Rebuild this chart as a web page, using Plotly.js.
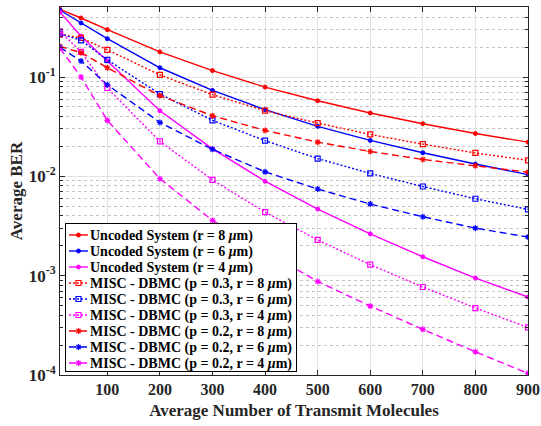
<!DOCTYPE html>
<html>
<head>
<meta charset="utf-8">
<script src="https://cdn.plot.ly/plotly-3.0.1.min.js"></script>
<style>
  html, body { margin: 0; padding: 0; background: #fff; }
  #chart { width: 541px; height: 426px; }
</style>
</head>
<body>
<div id="chart"></div>
<script>
// Average number of transmitted molecules
const molecules = [10, 50, 100, 200, 300, 400, 500, 600, 700, 800, 900];
const xTicks = [100, 200, 300, 400, 500, 600, 700, 800, 900];

// BER decades and their labels
const yTicks = [1e-4, 1e-3, 1e-2, 1e-1];
const yTickLabels = ['10<sup>-4</sup>', '10<sup>-3</sup>', '10<sup>-2</sup>', '10<sup>-1</sup>'];

// Average BER, uncoded system
const uncodedR8 = [0.48, 0.393, 0.300, 0.179, 0.116, 0.0792, 0.0577, 0.0434, 0.0339, 0.0270, 0.0221];
const uncodedR6 = [0.47, 0.350, 0.243, 0.124, 0.0733, 0.0469, 0.0319, 0.0230, 0.0173, 0.0133, 0.0104];
const uncodedR4 = [0.45, 0.258, 0.145, 0.0458, 0.0189, 0.00893, 0.00469, 0.00264, 0.00155, 0.000946, 0.000609];

// Average BER, MISC - DBMC with p = 0.3
const miscP3R8 = [0.267, 0.248, 0.188, 0.105, 0.0664, 0.0458, 0.0344, 0.0264, 0.0211, 0.0172, 0.0145];
const miscP3R6 = [0.273, 0.234, 0.149, 0.0674, 0.0366, 0.0229, 0.0151, 0.0107, 0.0079, 0.00595, 0.00465];
const miscP3R4 = [0.288, 0.179, 0.0775, 0.0225, 0.0092, 0.00436, 0.00229, 0.00129, 0.000769, 0.000472, 0.000301];

// Average BER, MISC - DBMC with p = 0.2
const miscP2R8 = [0.203, 0.176, 0.124, 0.0649, 0.0407, 0.0290, 0.0221, 0.0178, 0.0148, 0.0128, 0.0110];
const miscP2R6 = [0.199, 0.145, 0.0836, 0.0349, 0.0187, 0.0111, 0.00745, 0.00526, 0.00392, 0.00301, 0.00245];
const miscP2R4 = [0.195, 0.100, 0.0366, 0.00946, 0.0036, 0.00175, 0.000875, 0.000494, 0.000288, 0.000171, 0.000104];

const seriesNames = [
  'Uncoded System (r = 8 <i>μ</i>m)',
  'Uncoded System (r = 6 <i>μ</i>m)',
  'Uncoded System (r = 4 <i>μ</i>m)',
  'MISC - DBMC (p = 0.3, r = 8 <i>μ</i>m)',
  'MISC - DBMC (p = 0.3, r = 6 <i>μ</i>m)',
  'MISC - DBMC (p = 0.3, r = 4 <i>μ</i>m)',
  'MISC - DBMC (p = 0.2, r = 8 <i>μ</i>m)',
  'MISC - DBMC (p = 0.2, r = 6 <i>μ</i>m)',
  'MISC - DBMC (p = 0.2, r = 4 <i>μ</i>m)'
];
const seriesValues = [uncodedR8, uncodedR6, uncodedR4, miscP3R8, miscP3R6, miscP3R4, miscP2R8, miscP2R6, miscP2R4];

const RED = '#ff0000', BLUE = '#0000ff', MAGENTA = '#ff00ff';
const colors = [RED, BLUE, MAGENTA, RED, BLUE, MAGENTA, RED, BLUE, MAGENTA];

// line / marker style per scheme
const styles = [
  {dash: 'solid', symbol: 'circle', size: 4, lw: 1},
  {dash: '2px,2px', symbol: 'square-open', size: 5, lw: 1.2},
  {dash: '7px,4px', symbol: 'asterisk-open', size: 5, lw: 1.2}
];

const traces = seriesValues.map(function (vals, i) {
  const st = styles[Math.floor(i / 3)];
  return {
    x: molecules,
    y: vals,
    name: seriesNames[i],
    type: 'scatter',
    mode: 'lines+markers',
    line: {color: colors[i], width: 1.4, dash: st.dash},
    marker: {color: colors[i], symbol: st.symbol, size: st.size, line: {color: colors[i], width: st.lw}}
  };
});

// minor ticks at 2..9 within each decade
const minorTicks = [];
for (let d = -4; d <= -1; d++) {
  for (let k = 2; k <= 9; k++) minorTicks.push(k * Math.pow(10, d));
}

const AXIS_COLOR = '#262626';
const FONT = '"Liberation Serif", "Times New Roman", serif';

const layout = {
  width: 541,
  height: 426,
  margin: {l: 60, r: 13, t: 7, b: 51},
  paper_bgcolor: '#ffffff',
  plot_bgcolor: '#ffffff',
  font: {family: FONT, size: 16, color: AXIS_COLOR, weight: 700},
  showlegend: true,
  legend: {
    x: 0.0107, y: 0.011, xanchor: 'left', yanchor: 'bottom',
    bgcolor: '#ffffff', bordercolor: '#000000', borderwidth: 1,
    font: {family: FONT, size: 14, color: '#000000', weight: 700}
  },
  xaxis: {
    range: [10, 900],
    tickvals: xTicks,
    ticks: 'inside', ticklen: 5, tickwidth: 1, tickcolor: AXIS_COLOR,
    showline: true, linecolor: AXIS_COLOR, linewidth: 1, mirror: 'allticks',
    showgrid: true, gridcolor: '#e2e2e2', gridwidth: 1,
    zeroline: false,
    tickfont: {family: FONT, size: 16, color: AXIS_COLOR, weight: 700},
    title: {text: 'Average Number of Transmit Molecules', font: {family: FONT, size: 17, color: AXIS_COLOR, weight: 700}, standoff: 6}
  },
  yaxis: {
    type: 'log',
    range: [-4, -0.295],
    tickmode: 'array',
    tickvals: yTicks,
    ticktext: yTickLabels,
    ticks: 'inside', ticklen: 5, tickwidth: 1, tickcolor: AXIS_COLOR,
    showline: true, linecolor: AXIS_COLOR, linewidth: 1, mirror: 'allticks',
    showgrid: true, gridcolor: '#e2e2e2', gridwidth: 1,
    zeroline: false,
    minor: {
      tickvals: minorTicks,
      ticks: 'inside', ticklen: 3, tickcolor: AXIS_COLOR,
      showgrid: true, gridcolor: '#c4c4c4', griddash: 'dot', gridwidth: 1
    },
    tickfont: {family: FONT, size: 17, color: AXIS_COLOR, weight: 700},
    title: {text: 'Average BER', font: {family: FONT, size: 17, color: AXIS_COLOR, weight: 700}, standoff: 1}
  }
};

// Compact the legend rows into a tight boxed list in the lower-left corner
function tightenLegend(gd) {
  const legend = gd.querySelector('g.legend');
  if (!legend) return;
  const rowH = 16, firstY = 12, textX = 24;
  let maxW = 0;
  legend.querySelectorAll('g.traces').forEach(function (g, i) {
    g.setAttribute('transform', 'translate(1,' + (firstY + i * rowH) + ')');
    const txt = g.querySelector('text.legendtext');
    if (txt) {
      txt.setAttribute('x', textX);
      maxW = Math.max(maxW, txt.getBBox().width);
    }
    g.querySelectorAll('path.js-line').forEach(function (p) { p.setAttribute('d', 'M3,0h19'); });
    g.querySelectorAll('.legendpoints path.scatterpts').forEach(function (p) {
      p.setAttribute('transform', 'translate(12.5,0)');
    });
  });
  const bg = legend.querySelector('rect.bg');
  if (bg) {
    bg.setAttribute('width', textX + maxW + 5);
    bg.setAttribute('height', firstY + 8 * rowH + 8);
  }
  legend.setAttribute('transform', 'translate(65,223)');
}

Plotly.newPlot('chart', traces, layout, {staticPlot: true}).then(tightenLegend);
</script>
</body>
</html>
